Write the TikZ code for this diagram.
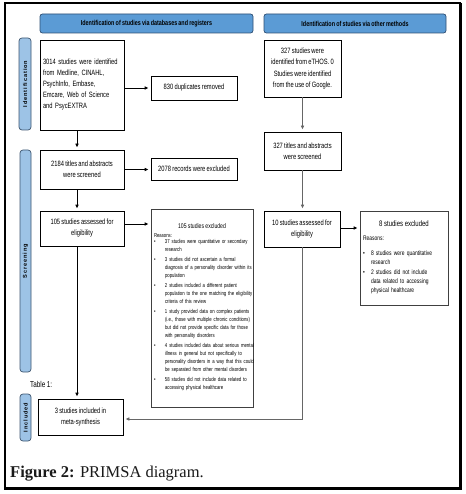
\documentclass[tikz,border=0pt]{standalone}
\usepackage{fontspec}
\setmainfont{Liberation Serif}
\newfontfamily\nar{Liberation Sans}[FakeStretch=0.75, WordSpace=0.8]
\newfontfamily\sidef{Liberation Sans}[LetterSpace=16]
\usetikzlibrary{arrows.meta,calc}
\definecolor{hdr}{HTML}{5B9BD5}
\definecolor{hdrb}{HTML}{2E4F73}
\definecolor{sidec}{HTML}{9DC3E6}
\definecolor{sideb}{HTML}{3E5670}
\definecolor{capc}{HTML}{1A1A1A}
\newcommand{\tightsp}{\spaceskip=0.2em plus 0.05em minus 0.05em\relax}
\tikzset{
  box/.style={draw=black, line width=0.7pt, inner sep=2pt, align=center, font=\nar\fontsize{7.7}{11}\selectfont},
  hdrbox/.style={draw=hdrb, fill=hdr, line width=0.7pt, rounded corners=2.5pt, align=center, inner sep=0pt, font=\nar\bfseries\fontsize{7.2}{8}\selectfont},
  sidel/.style={draw=sideb, fill=sidec, line width=0.7pt, rounded corners=3pt, rotate=90, inner sep=0pt, font=\sidef\bfseries\fontsize{5.6}{6}\selectfont},
  arr/.style={-{Triangle[length=3.5pt,width=3.2pt]}, line width=0.7pt, shorten >=2.5pt},
  garr/.style={arr, draw=gray!80!black},
  exbox/.style={draw=black!75, line width=0.7pt, align=left, inner xsep=3pt, inner ysep=0pt}
}
\begin{document}
\begin{tikzpicture}[x=1pt,y=-1pt]
\useasboundingbox (0,0) rectangle (465,494);
% outer frame
\draw[line width=1.4pt] (5,3) rectangle (460,488);
\draw[line width=3pt] (460,3) -- (460,488.8) -- (4.3,488.8);
% headers
\node[hdrbox, minimum width=213pt, minimum height=19pt] (h1) at (146.5,23.5) {Identification of studies via databases and registers};
\node[hdrbox, minimum width=182pt, minimum height=19pt] (h2) at (355,23.5) {Identification of studies via other methods};
% side labels
\node[sidel, minimum width=92pt, minimum height=12pt] (s1) at (25,84) {Identification};
\node[sidel, minimum width=222pt, minimum height=11pt] (s2) at (25.5,261) {Screening};
\node[sidel, minimum width=47pt, minimum height=11pt] (s3) at (25.5,417.5) {Included};
\node[anchor=west, inner sep=0pt, font=\nar\fontsize{8.5}{9}\selectfont] (tab) at (30,384.5) {Table 1:};
% left column
\node[box, minimum width=84pt, minimum height=90pt, text width=78pt, align=left, inner xsep=3pt] (b1) at (82,85) {3014 studies were identified\\ from Medline, CINAHL,\\ PsychInfo, Embase,\\ Emcare, Web of Science\\ and PsycEXTRA};
\node[box, minimum width=86pt, minimum height=24pt] (dup) at (194,88) {830 duplicates removed};
\node[box, minimum width=84pt, minimum height=39pt] (b2) at (82,169.5) {2184 titles and abstracts\\ were screened};
\node[box, minimum width=86pt, minimum height=22pt] (ex1) at (194,169) {2078 records were excluded};
\node[box, minimum width=84pt, minimum height=35pt] (b3) at (82,228.5) {105 studies assessed for\\ eligibility};
\node[exbox, minimum width=102pt, minimum height=198pt, text width=96pt, font=\nar\fontsize{5.7}{8}\selectfont\tightsp] (ex105) at (202,308) {%
\makebox[96pt]{\fontsize{6.8}{8}\selectfont\tightsp 105 studies excluded}\\[1pt]
Reasons:\\[-1pt]
\begin{tabular}{@{}p{11pt}@{}l@{}}
\textbullet & 37 studies were quantitative or secondary\\
 & research\\[2pt]
\textbullet & 3 studies did not ascertain a formal\\
 & diagnosis of a personality disorder within its\\
 & population\\[2pt]
\textbullet & 2 studies included a different patient\\
 & population to the one matching the eligibility\\
 & criteria of this review\\[2pt]
\textbullet & 1 study provided data on complex patients\\
 & (i.e., those with multiple chronic conditions)\\
 & but did not provide specific data for those\\
 & with personality disorders\\[2pt]
\textbullet & 4 studies included data about serious mental\\
 & illness in general but not specifically to\\
 & personality disorders in a way that this could\\
 & be separated from other mental disorders\\[2pt]
\textbullet & 58 studies did not include data related to\\
 & accessing physical healthcare
\end{tabular}};
\node[box, minimum width=85pt, minimum height=36pt] (fin) at (80.5,417) {3 studies included in\\ meta-synthesis};
% right column
\node[box, minimum width=77pt, minimum height=57pt, font=\nar\fontsize{7.7}{11.5}\selectfont] (r1) at (302.5,68.5) {327 studies were\\ identified from eTHOS. 0\\ Studies were identified\\ from the use of Google.};
\node[box, minimum width=77pt, minimum height=38pt] (r2) at (302.5,151) {327 titles and abstracts\\ were screened};
\node[box, minimum width=76pt, minimum height=36pt] (r3) at (302,229) {10 studies assessed for\\ eligibility};
\node[exbox, minimum width=88pt, minimum height=94pt, text width=82pt, font=\nar\fontsize{6.6}{9}\selectfont\tightsp] (ex8) at (404,258) {%
\makebox[82pt]{\fontsize{8}{9}\selectfont\tightsp 8 studies excluded}\\[5pt]
Reasons:\\[8pt]
\begin{tabular}{@{}p{8pt}@{}l@{}}
\textbullet & 8 studies were quantitative\\
 & research\\[1.5pt]
\textbullet & 2 studies did not include\\
 & data related to accessing\\
 & physical healthcare
\end{tabular}};
% caption
\node[anchor=base west, inner sep=0pt, text=capc, font=\fontsize{16.5}{18}\selectfont] (cap) at (10,477) {\textbf{Figure 2:} PRIMSA diagram.};
% connectors
\draw[arr] (b1.east |- dup.west) -- (dup.west);
\draw[arr] ([xshift=-5pt]b1.south) -- ([xshift=-5pt]b1.south |- b2.north);
\draw[arr] (b2.east) -- (b2.east -| ex1.west);
\draw[arr] ([xshift=-5pt]b2.south) -- ([xshift=-5pt]b2.south |- b3.north);
\draw[arr] ([yshift=4.5pt]b3.east) -- ([yshift=4.5pt]b3.east -| ex105.west);
\draw[arr] ([xshift=-5pt]b3.south) -- ([xshift=-5pt]b3.south |- fin.north);
\draw[garr] (r1.south) -- (r2.north);
\draw[garr] (r2.south) -- (r2.south |- r3.north);
\draw[arr] ([yshift=1pt]r3.east) -- ([yshift=1pt]r3.east -| ex8.west);
\draw[garr] (r3.south) |- ([yshift=-2pt]fin.east);
\end{tikzpicture}
\end{document}
